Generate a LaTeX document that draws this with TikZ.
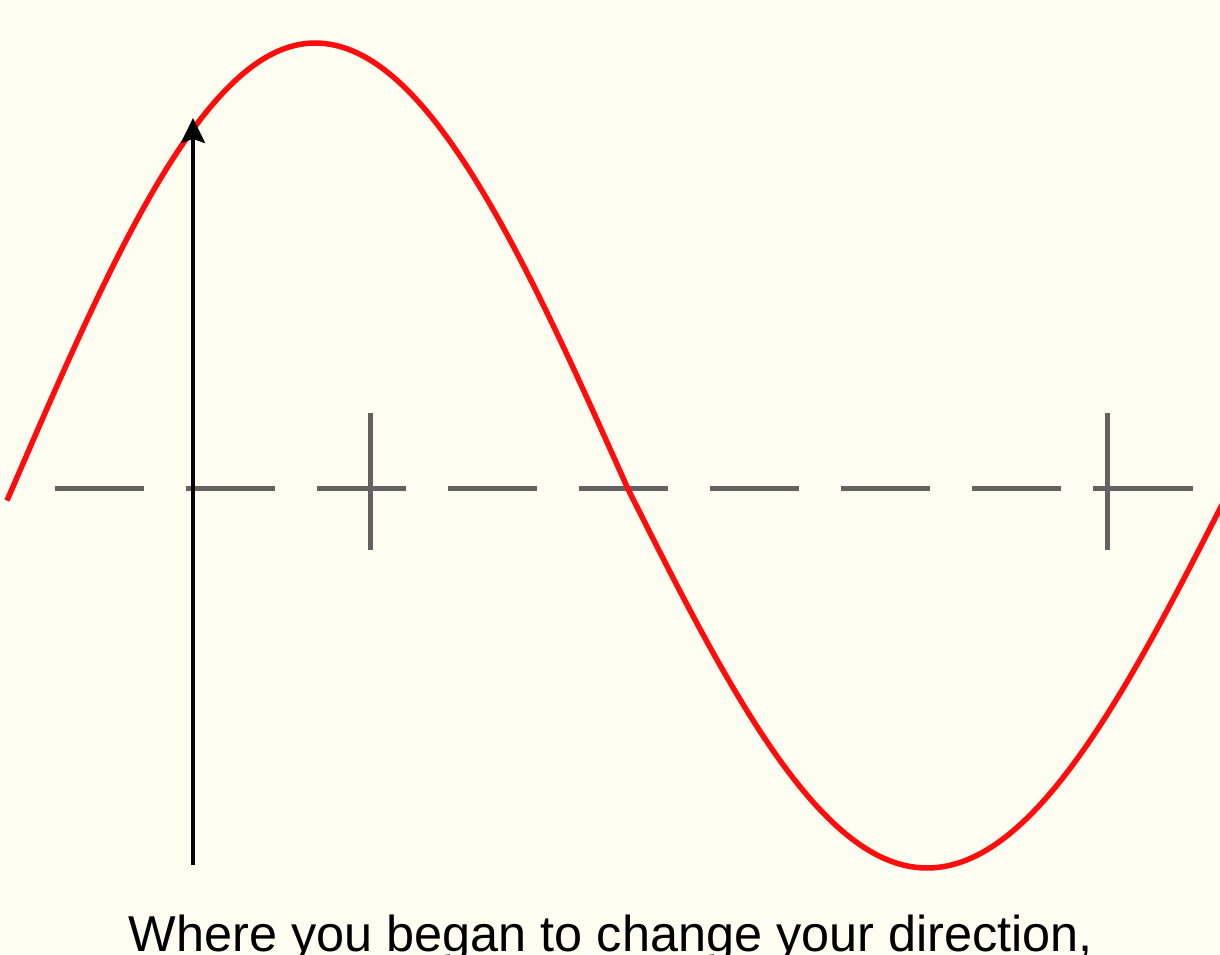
\documentclass[tikz,border=0pt]{standalone}
\usepackage{xcolor}
\usepackage{fontspec}
\setmainfont{Liberation Sans}
\usepackage{tikz}
\usetikzlibrary{arrows.meta, positioning}

\definecolor{papercream}{RGB}{253,253,242}
\definecolor{axisgray}{RGB}{98,98,98}
\definecolor{wavered}{RGB}{255,12,12}

\begin{document}
\begin{tikzpicture}[x=0.02cm, y=-0.02cm, >=Stealth, every node/.style={font=\fontsize{28.7}{34}\selectfont}]
    % Canvas
    \fill[papercream] (0,0) rectangle (1220,955);
    \useasboundingbox (0,0) rectangle (1220,955);
    \clip (0,0) rectangle (1220,955);

    % Axis (dashed) and ticks
    \draw [color=axisgray, line width=0.1cm, dash pattern=on 1.78cm off 0.84cm] (55,489) -- (1062,489);
    \draw [color=axisgray, line width=0.1cm] (1093,489) -- (1193,489);
    \foreach \tx in {370, 1107}
        \draw [color=axisgray, line width=0.1cm] (\tx,413) -- (\tx,550);

    % Wave
    \draw [color=wavered, line width=0.11cm, line join=round, samples=60]
        plot[domain=7:315] (\x, {489-446*sin((\x-12)/303*90)})
        -- plot[domain=315:628] (\x, {489-446*cos((\x-315)/313*90)})
        -- plot[domain=628:927] (\x, {489+379*sin((\x-628)/299*90)})
        -- plot[domain=927:1222] (\x, {489+379*cos((\x-927)/303*90)});

    % Arrow
    \coordinate (foot) at (193,865);
    \coordinate (turn) at (193,118);
    \draw [->, line width=0.08cm, >={Stealth[length=0.5cm, width=0.48cm, inset=0.08cm]}] (foot) -- (turn);

    % Caption
    \node (caption) [anchor=base, inner sep=0pt] at (611,951) {Where you began to change your direction,};
\end{tikzpicture}
\end{document}
